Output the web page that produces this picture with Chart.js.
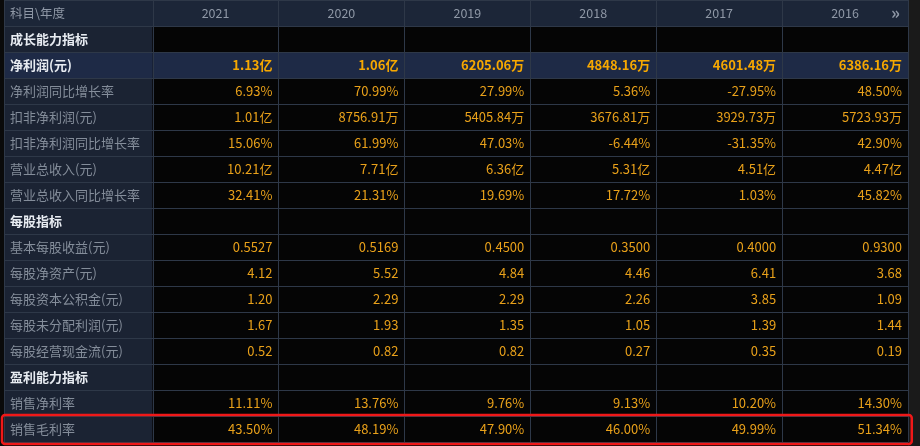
<!DOCTYPE html>
<html>
<head>
<meta charset="utf-8">
<script src="https://cdn.jsdelivr.net/npm/chart.js@4"></script>
<style>
html, body { margin: 0; padding: 0; background: #0a0a0a; }
#wrap { width: 920px; height: 446px; }
</style>
</head>
<body>
<div id="wrap"><canvas id="tabla"></canvas></div>
<script>
// datos de la tabla
const years = ["2021", "2020", "2019", "2018", "2017", "2016"];
const rowLabels = [
    "成长能力指标", "净利润(元)", "净利润同比增长率", "扣非净利润(元)", "扣非净利润同比增长率",
    "营业总收入(元)", "营业总收入同比增长率", "每股指标", "基本每股收益(元)", "每股净资产(元)",
    "每股资本公积金(元)", "每股未分配利润(元)", "每股经营现金流(元)", "盈利能力指标", "销售净利率", "销售毛利率"
];
const sectionRows = ["成长能力指标", "每股指标", "盈利能力指标"];
const netProfit = ["1.13亿", "1.06亿", "6205.06万", "4848.16万", "4601.48万", "6386.16万"];
const netProfitGrowth = ["6.93%", "70.99%", "27.99%", "5.36%", "-27.95%", "48.50%"];
const deductProfit = ["1.01亿", "8756.91万", "5405.84万", "3676.81万", "3929.73万", "5723.93万"];
const deductGrowth = ["15.06%", "61.99%", "47.03%", "-6.44%", "-31.35%", "42.90%"];
const revenue = ["10.21亿", "7.71亿", "6.36亿", "5.31亿", "4.51亿", "4.47亿"];
const revenueGrowth = ["32.41%", "21.31%", "19.69%", "17.72%", "1.03%", "45.82%"];
const eps = ["0.5527", "0.5169", "0.4500", "0.3500", "0.4000", "0.9300"];
const bvps = ["4.12", "5.52", "4.84", "4.46", "6.41", "3.68"];
const capitalReserve = ["1.20", "2.29", "2.29", "2.26", "3.85", "1.09"];
const undistributed = ["1.67", "1.93", "1.35", "1.05", "1.39", "1.44"];
const cashFlow = ["0.52", "0.82", "0.82", "0.27", "0.35", "0.19"];
const netMargin = ["11.11%", "13.76%", "9.76%", "9.13%", "10.20%", "14.30%"];
const grossMargin = ["43.50%", "48.19%", "47.90%", "46.00%", "49.99%", "51.34%"];

const rowValues = {
    "净利润(元)": netProfit, "净利润同比增长率": netProfitGrowth, "扣非净利润(元)": deductProfit,
    "扣非净利润同比增长率": deductGrowth, "营业总收入(元)": revenue, "营业总收入同比增长率": revenueGrowth,
    "基本每股收益(元)": eps, "每股净资产(元)": bvps, "每股资本公积金(元)": capitalReserve,
    "每股未分配利润(元)": undistributed, "每股经营现金流(元)": cashFlow,
    "销售净利率": netMargin, "销售毛利率": grossMargin
};

const FONT = '"Noto Sans CJK SC", "Noto Sans", sans-serif';

const tablaPlugin = {
    id: "tabla",
    beforeDatasetsDraw(chart) {
        const ctx = chart.ctx;
        const xs = chart.scales.x, ys = chart.scales.y;
        const X = v => xs.getPixelForValue(v);
        const Y = v => ys.getPixelForValue(v);
        const labelL = X(-1.18), dataR = X(6);
        ctx.save();
        ctx.fillStyle = "#1a1a1a";
        ctx.fillRect(dataR, 0, chart.width - dataR, chart.height);

        // encabezado
        ctx.fillStyle = "#1c2638";
        ctx.fillRect(labelL, Y(0), dataR - labelL, Y(1) - Y(0));
        ctx.font = "12.5px " + FONT;
        ctx.textBaseline = "middle";
        ctx.fillStyle = "#8f98a6";
        ctx.textAlign = "left";
        ctx.fillText("科目\\年度", labelL + 6, Y(0.5));
        ctx.textAlign = "center";
        years.forEach((yr, i) => ctx.fillText(yr, X(i + 0.5), Y(0.5)));
        ctx.font = "bold 17px " + FONT;
        ctx.fillText("»", X(5.9), Y(0.5));

        rowLabels.forEach((lab, r) => {
            const top = Y(r + 1), bot = Y(r + 2), mid = Y(r + 1.5);
            const isSection = sectionRows.includes(lab);
            const isMain = lab === "净利润(元)";
            ctx.fillStyle = isMain ? "#1e2a46" : "#1b2333";
            ctx.fillRect(labelL, top, X(0) - labelL, bot - top);
            ctx.fillStyle = isMain ? "#1e2a46" : "#050505";
            ctx.fillRect(X(0), top, dataR - X(0), bot - top);
            ctx.textAlign = "left";
            ctx.font = (isSection || isMain ? "bold " : "") + "13px " + FONT;
            ctx.fillStyle = (isSection || isMain) ? "#e8ecf2" : "#848d9a";
            ctx.fillText(lab, labelL + 6, mid);
            const vals = rowValues[lab];
            if (vals) {
                ctx.textAlign = "right";
                ctx.font = (isMain ? "bold " : "") + "13px " + FONT;
                ctx.fillStyle = isMain ? "#f7a800" : "#e9a11a";
                vals.forEach((v, i) => ctx.fillText(v, X(i + 1) - 6, mid));
            }
        });

        // líneas de la cuadrícula
        ctx.strokeStyle = "#2e3848";
        ctx.lineWidth = 1;
        for (let r = 0; r <= rowLabels.length + 1; r++) {
            const y = Math.round(Y(r)) + 0.5;
            ctx.beginPath(); ctx.moveTo(labelL, y); ctx.lineTo(dataR, y); ctx.stroke();
        }
        [-1.18, 0, 1, 2, 3, 4, 5, 6].forEach(c => {
            const x = Math.round(X(c)) + 0.5;
            ctx.beginPath(); ctx.moveTo(x, Y(0)); ctx.lineTo(x, Y(rowLabels.length + 1)); ctx.stroke();
        });

        // recuadro rojo
        const last = rowLabels.length;
        ctx.strokeStyle = "#f01818";
        ctx.lineWidth = 2.5;
        ctx.beginPath();
        ctx.roundRect(labelL - 2, Y(last) - 1, X(6.03) - labelL + 2, Y(last + 1) - Y(last) + 3, 3);
        ctx.stroke();
        ctx.restore();
    }
};

new Chart(document.getElementById("tabla"), {
    type: "scatter",
    data: { datasets: [{ data: [], pointRadius: 0 }] },
    options: {
        responsive: true,
        maintainAspectRatio: false,
        animation: false,
        layout: { padding: { left: 4, right: 12, top: 0, bottom: 4 } },
        plugins: { legend: { display: false }, tooltip: { enabled: false } },
        scales: {
            x: { type: "linear", min: -1.18, max: 6, display: false },
            y: { type: "linear", min: 0, max: rowLabels.length + 1, reverse: true, display: false }
        }
    },
    plugins: [tablaPlugin]
});
</script>
</body>
</html>
